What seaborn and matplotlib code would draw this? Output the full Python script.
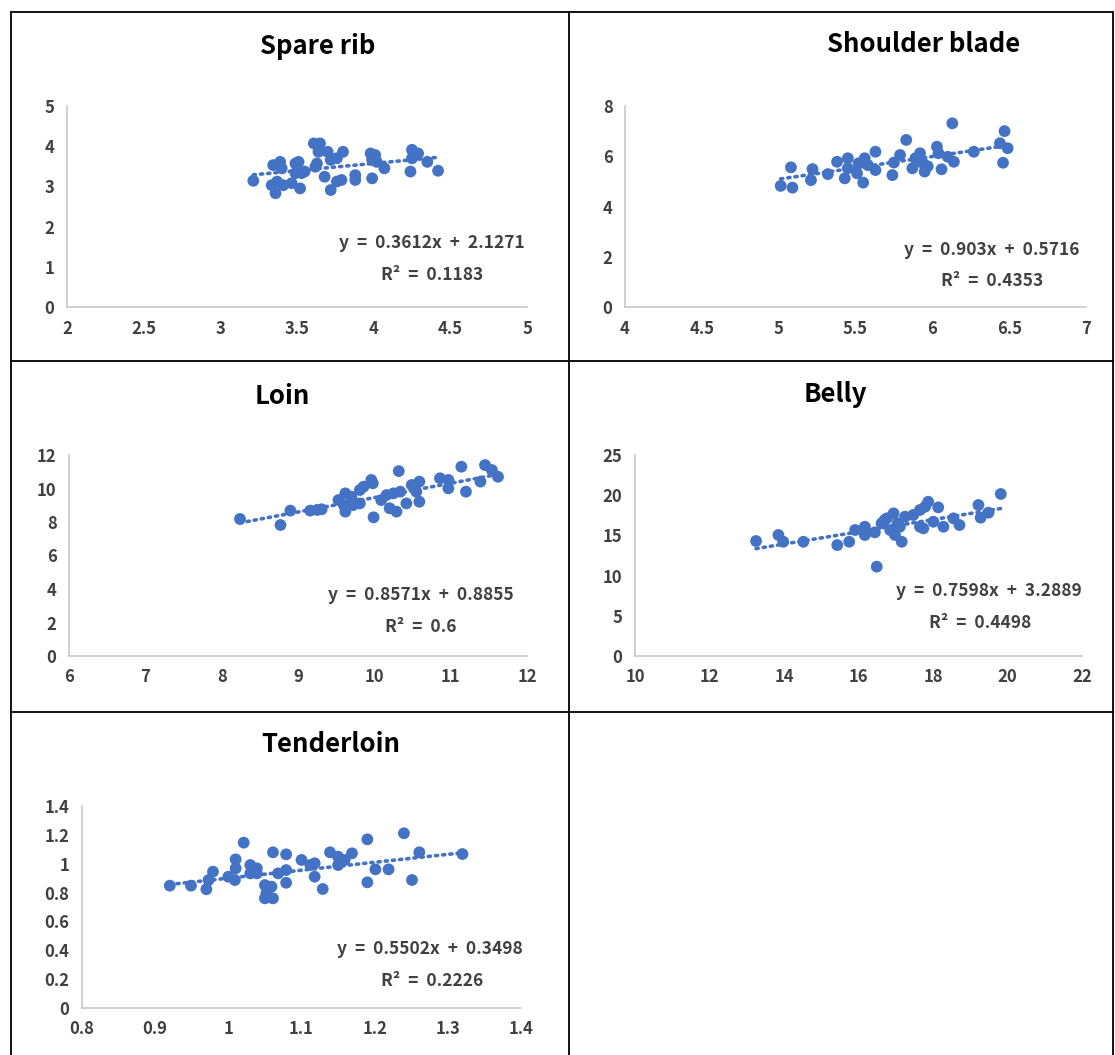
import numpy as np
import pandas as pd
import matplotlib
matplotlib.use("Agg")
import matplotlib.pyplot as plt
import seaborn as sns
from matplotlib.lines import Line2D

sns.set_style("white")
plt.rcParams['font.family'] = ['Noto Sans CJK KR', 'DejaVu Sans']

BLUE = '#4472C4'

# Spare rib
spare_x = [3.215, 3.345, 3.39, 3.40, 3.335, 3.37, 3.36, 3.41, 3.465, 3.52, 3.49, 3.51, 3.49, 3.53,
           3.55, 3.61, 3.65, 3.64, 3.63, 3.62, 3.70, 3.72, 3.76, 3.80, 3.68, 3.76, 3.79, 3.72,
           3.88, 3.88, 3.98, 4.01, 3.99, 4.02, 3.99, 4.07, 4.25, 4.29, 4.25, 4.35, 4.24, 4.42]
spare_y = [3.14, 3.53, 3.61, 3.45, 3.03, 3.12, 2.83, 3.03, 3.08, 2.95, 3.57, 3.61, 3.33, 3.33,
           3.37, 4.07, 4.07, 3.86, 3.57, 3.49, 3.86, 3.66, 3.70, 3.86, 3.24, 3.12, 3.16, 2.91,
           3.28, 3.16, 3.82, 3.78, 3.66, 3.61, 3.20, 3.45, 3.91, 3.82, 3.70, 3.61, 3.37, 3.39]

# Shoulder blade
shoulder_x = [5.013, 5.09, 5.08, 5.21, 5.22, 5.32, 5.38, 5.43, 5.45, 5.45, 5.51, 5.52, 5.55, 5.56,
              5.58, 5.63, 5.63, 5.74, 5.75, 5.79, 5.83, 5.87, 5.89, 5.92, 5.94, 5.95, 6.03, 6.04,
              6.06, 6.10, 6.14, 6.13, 6.27, 6.44, 6.47, 6.49, 6.46, 5.90, 5.97]
shoulder_y = [4.82, 4.75, 5.56, 5.05, 5.49, 5.29, 5.78, 5.12, 5.92, 5.52, 5.32, 5.72, 4.95, 5.92,
              5.65, 6.18, 5.45, 5.25, 5.75, 6.05, 6.65, 5.52, 5.92, 6.12, 5.72, 5.39, 6.38, 6.12,
              5.48, 5.98, 5.78, 7.31, 6.18, 6.52, 7.00, 6.32, 5.74, 5.80, 5.60]

# Loin
loin_x = [8.24, 8.77, 8.90, 9.16, 9.25, 9.31, 9.53, 9.62, 9.60, 9.62, 9.70, 9.72, 9.81, 9.86,
          9.81, 9.96, 9.98, 9.99, 10.09, 10.16, 10.20, 10.29, 10.25, 10.34, 10.32, 10.42, 10.49,
          10.55, 10.59, 10.59, 10.86, 10.97, 10.97, 11.14, 11.20, 11.39, 11.45, 11.54, 11.62]
loin_y = [8.18, 7.82, 8.68, 8.68, 8.72, 8.76, 9.31, 9.71, 9.01, 8.62, 9.51, 9.01, 9.91, 10.11,
          9.11, 10.51, 10.31, 8.28, 9.31, 9.61, 8.82, 8.62, 9.71, 9.81, 11.04, 9.11, 10.21,
          9.81, 10.41, 9.21, 10.61, 10.51, 10.01, 11.30, 9.81, 10.41, 11.40, 11.10, 10.70]

# Belly
belly_x = [13.25, 13.85, 13.98, 14.52, 15.43, 15.75, 15.91, 16.17, 16.17, 16.44, 16.49, 16.62,
           16.76, 16.85, 16.94, 16.98, 17.16, 17.11, 17.25, 17.47, 17.65, 17.65, 17.79, 17.87,
           17.74, 18.01, 18.14, 18.28, 18.55, 18.71, 19.22, 19.28, 19.49, 19.82, 16.70, 17.05]
belly_y = [14.30, 15.05, 14.21, 14.21, 13.80, 14.21, 15.67, 16.08, 15.05, 15.38, 11.11, 16.50,
           17.12, 15.67, 17.74, 15.05, 14.21, 16.08, 17.33, 17.54, 16.08, 18.16, 18.57, 19.19,
           15.88, 16.70, 18.49, 16.08, 17.12, 16.29, 18.78, 17.20, 17.83, 20.15, 16.90, 16.50]

# Tenderloin
tender_x = [0.920, 0.949, 0.970, 0.973, 0.979, 1.000, 1.009, 1.010, 1.010, 1.021, 1.030, 1.030,
            1.039, 1.039, 1.050, 1.052, 1.050, 1.061, 1.059, 1.061, 1.068, 1.079, 1.079, 1.079,
            1.100, 1.112, 1.118, 1.118, 1.129, 1.139, 1.150, 1.150, 1.159, 1.169, 1.190, 1.190,
            1.201, 1.219, 1.240, 1.251, 1.261, 1.320]
tender_y = [0.848, 0.848, 0.823, 0.887, 0.945, 0.910, 0.887, 1.030, 0.968, 1.146, 0.991, 0.933,
            0.968, 0.933, 0.852, 0.795, 0.760, 0.760, 0.841, 1.079, 0.933, 1.065, 0.956, 0.868,
            1.026, 0.991, 1.003, 0.910, 0.825, 1.079, 1.049, 0.991, 1.026, 1.072, 1.169, 0.871,
            0.961, 0.961, 1.211, 0.887, 1.079, 1.067]

titles = ['Spare rib', 'Shoulder blade', 'Loin', 'Belly', 'Tenderloin']
slopes = [0.3612, 0.903, 0.8571, 0.7598, 0.5502]
intercepts = [2.1271, 0.5716, 0.8855, 3.2889, 0.3498]
eq_labels = ['y = 0.3612x + 2.1271', 'y = 0.903x + 0.5716', 'y = 0.8571x + 0.8855',
             'y = 0.7598x + 3.2889', 'y = 0.5502x + 0.3498']
r2_labels = ['R² = 0.1183', 'R² = 0.4353', 'R² = 0.6', 'R² = 0.4498', 'R² = 0.2226']
xlims = [(2, 5), (4, 7), (6, 12), (10, 22), (0.8, 1.4)]
ylims = [(0, 5), (0, 8), (0, 12), (0, 25), (0, 1.4)]
xticks = [[2, 2.5, 3, 3.5, 4, 4.5, 5], [4, 4.5, 5, 5.5, 6, 6.5, 7], [6, 7, 8, 9, 10, 11, 12],
          [10, 12, 14, 16, 18, 20, 22], [0.8, 0.9, 1, 1.1, 1.2, 1.3, 1.4]]
yticks = [[0, 1, 2, 3, 4, 5], [0, 2, 4, 6, 8], [0, 2, 4, 6, 8, 10, 12], [0, 5, 10, 15, 20, 25],
          [0, 0.2, 0.4, 0.6, 0.8, 1, 1.2, 1.4]]
data_x = [spare_x, shoulder_x, loin_x, belly_x, tender_x]
data_y = [spare_y, shoulder_y, loin_y, belly_y, tender_y]

W, H = 1115, 1055
fig = plt.figure(figsize=(W / 100, H / 100), dpi=100)

# pixel layout: axes box, title centre, equation centres
boxes = [(67, 106, 527, 307), (625, 106, 1086, 307), (69, 455, 527, 656),
         (635, 455, 1082, 656), (82, 806, 521, 1008)]
title_pos = [(318, 47), (924, 45), (282, 397), (835, 394), (331, 745)]
eq_pos = [(432, 243), (992, 250), (421, 595), (989, 591), (430, 949)]
r2_pos = [(432, 275), (992, 281), (421, 627), (980, 623), (432, 981)]


def fx(px):
    return px / W


def fy(py):
    return 1 - py / H


def fmt(v):
    return f'{v:g}'


for i in range(5):
    l, t, r, b = boxes[i]
    ax = fig.add_axes([fx(l), fy(b), (r - l) / W, (b - t) / H])
    df = pd.DataFrame({'x': data_x[i], 'y': data_y[i]})
    sns.scatterplot(data=df, x='x', y='y', ax=ax, color=BLUE, s=72, edgecolor='none', zorder=3)
    xs = np.array([min(data_x[i]), max(data_x[i])])
    ax.plot(xs, slopes[i] * xs + intercepts[i], color=BLUE, lw=2.6,
            linestyle=(0, (0.6, 1.4)), dash_capstyle='round', zorder=2)
    ax.set_xlim(*xlims[i])
    ax.set_ylim(*ylims[i])
    ax.set_xticks(xticks[i])
    ax.set_yticks(yticks[i])
    ax.set_xticklabels([fmt(v) for v in xticks[i]])
    ax.set_yticklabels([fmt(v) for v in yticks[i]])
    ax.set_xlabel('')
    ax.set_ylabel('')
    ax.tick_params(length=0, labelsize=12, labelcolor='#404040', pad=9)
    for lab in ax.get_xticklabels() + ax.get_yticklabels():
        lab.set_fontweight('bold')
    for s in ['top', 'right']:
        ax.spines[s].set_visible(False)
    for s in ['left', 'bottom']:
        ax.spines[s].set_color('#c8c8c8')
        ax.spines[s].set_linewidth(1.2)
    ax.patch.set_alpha(0)

    fig.text(fx(title_pos[i][0]), fy(title_pos[i][1]), titles[i], ha='center', va='center',
             fontsize=18.5, fontweight='bold', color='black')
    fig.text(fx(eq_pos[i][0]), fy(eq_pos[i][1]), eq_labels[i].replace(' ', '  '), ha='center',
             va='center', fontsize=12.5, fontweight='bold', color='#404040')
    fig.text(fx(r2_pos[i][0]), fy(r2_pos[i][1]), r2_labels[i].replace(' ', '  '), ha='center',
             va='center', fontsize=12.5, fontweight='bold', color='#404040')

# table grid lines
grid_lines = [((11, 1113), (12, 12)), ((11, 1113), (361, 361)), ((11, 1113), (712, 712)),
              ((11, 11), (12, 1055)), ((569, 569), (12, 1055)), ((1113, 1113), (12, 1055))]
for (x0, x1), (y0, y1) in grid_lines:
    fig.add_artist(Line2D([fx(x0), fx(x1)], [fy(y0), fy(y1)], color='black', lw=1.3))

fig.savefig('out.png', dpi=100)
